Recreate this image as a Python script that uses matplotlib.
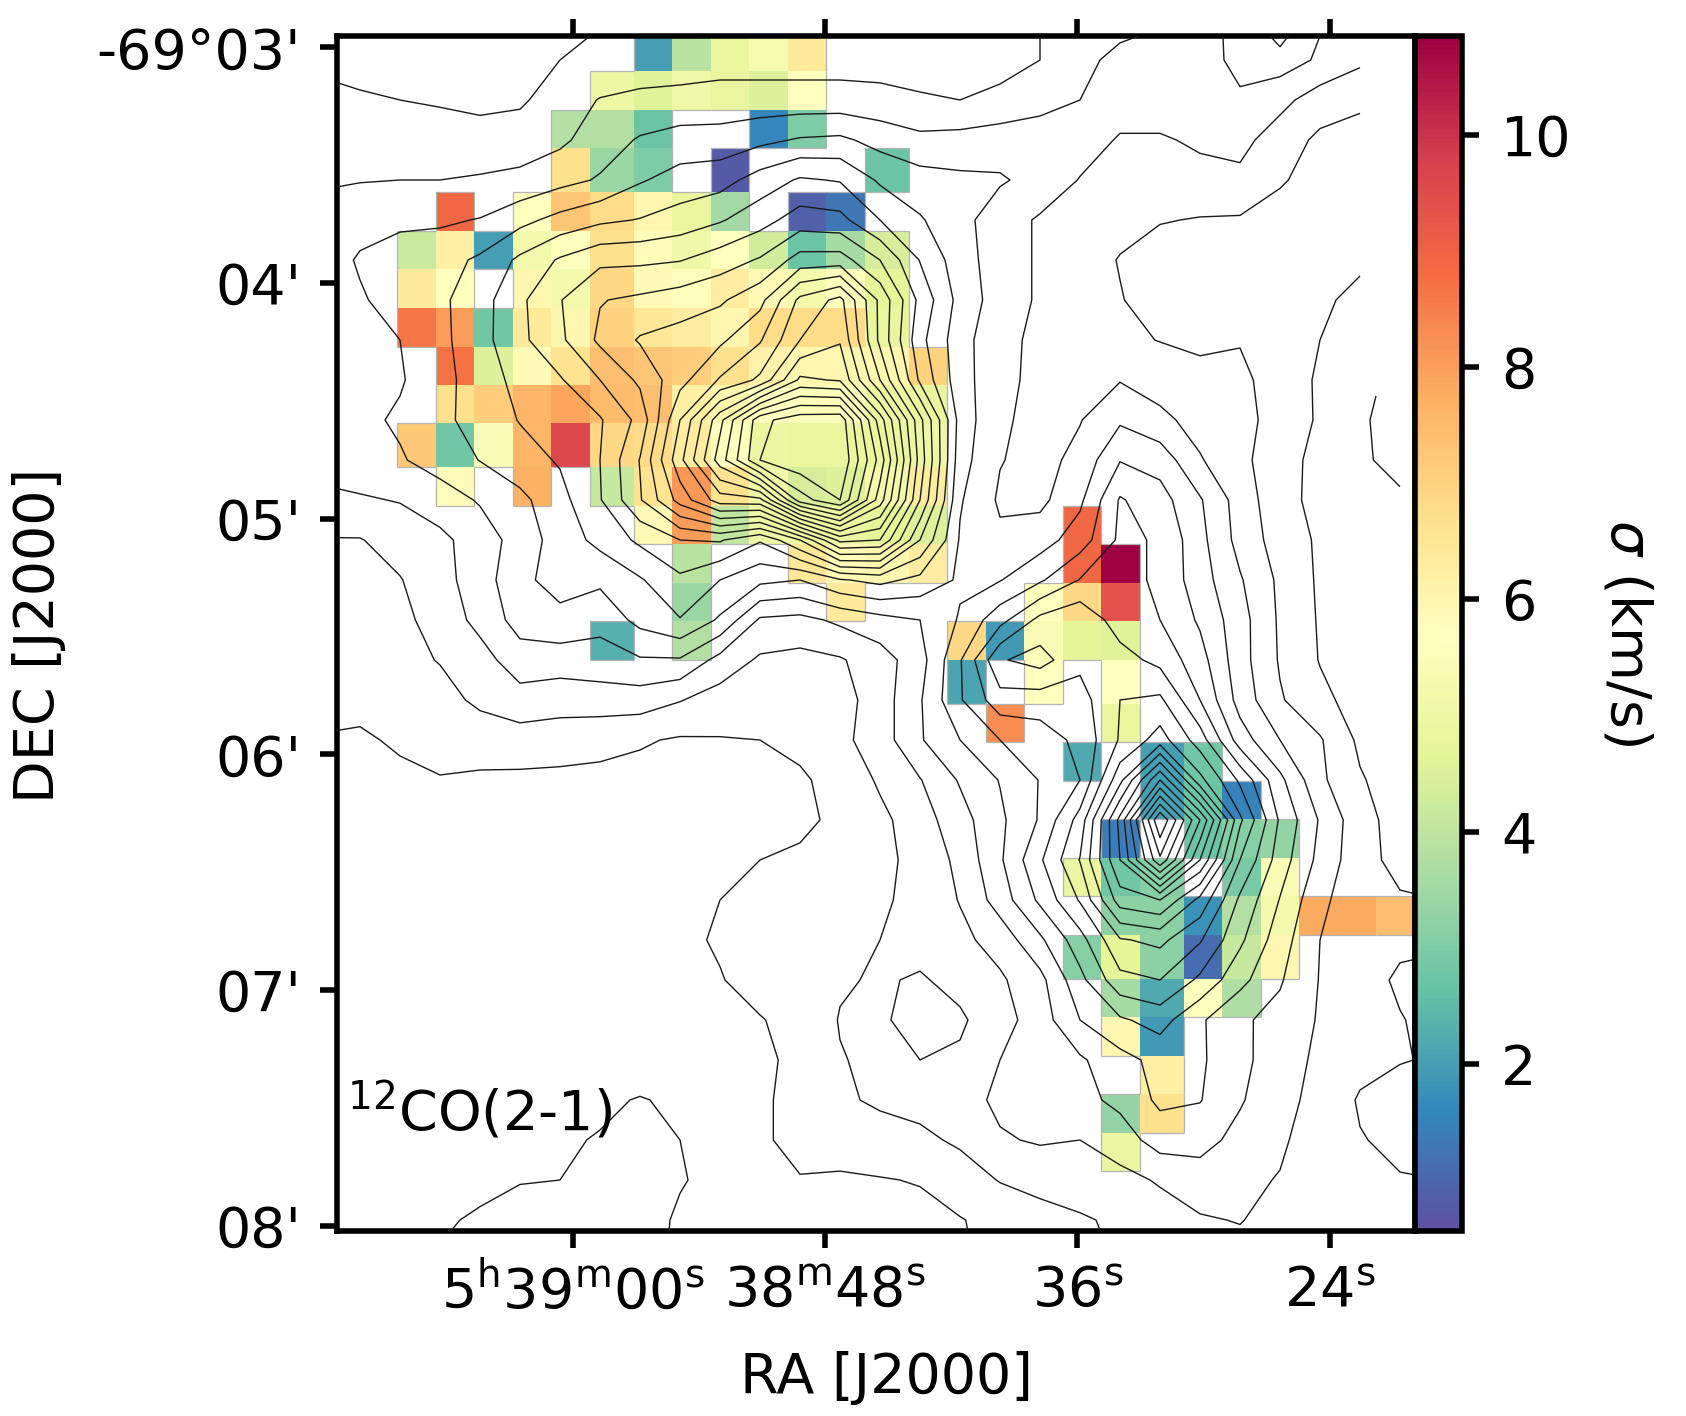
import numpy as np
import matplotlib
matplotlib.use("Agg")
import matplotlib.pyplot as plt
from matplotlib.collections import LineCollection

_ = np.nan
# ---------------- velocity dispersion map (km/s): rows north to south, columns east to west
sigma_rows = [
 [_,_,_,_,_,_,2.0,3.9,4.8,5.3,6.4,_,_,_,_,_,_,_,_,_,_,_,_,_,_,_],
 [_,_,_,_,_,5.0,4.6,5.1,4.8,4.5,5.7,_,_,_,_,_,_,_,_,_,_,_,_,_,_,_],
 [_,_,_,_,3.8,3.8,2.7,_,_,1.6,3.0,_,_,_,_,_,_,_,_,_,_,_,_,_,_,_],
 [_,_,_,_,6.7,3.4,3.0,_,0.8,_,_,_,2.7,_,_,_,_,_,_,_,_,_,_,_,_,_],
 [_,8.9,_,5.7,7.3,6.8,6.0,4.8,3.5,_,0.9,1.3,_,_,_,_,_,_,_,_,_,_,_,_,_,_],
 [4.2,6.2,2.0,5.2,5.6,6.7,5.8,5.1,5.7,4.3,2.7,3.6,4.4,_,_,_,_,_,_,_,_,_,_,_,_,_],
 [6.4,5.7,_,6.0,5.2,6.9,5.9,5.6,6.3,5.9,5.2,5.6,4.7,_,_,_,_,_,_,_,_,_,_,_,_,_],
 [8.6,8.0,2.8,6.4,6.0,7.0,6.5,6.3,6.0,6.8,6.8,6.8,4.8,_,_,_,_,_,_,_,_,_,_,_,_,_],
 [_,8.7,4.5,5.9,6.6,7.4,7.3,7.1,6.7,6.1,6.0,6.0,6.0,7.0,_,_,_,_,_,_,_,_,_,_,_,_],
 [_,6.7,7.1,7.6,7.9,7.5,7.4,6.2,6.0,5.7,5.6,5.6,5.0,4.8,_,_,_,_,_,_,_,_,_,_,_,_],
 [7.2,2.8,5.4,7.6,9.6,6.9,6.8,6.3,5.7,4.9,4.8,4.8,4.8,5.0,_,_,_,_,_,_,_,_,_,_,_,_],
 [_,5.8,_,7.7,_,4.1,6.6,8.1,6.6,5.1,4.4,4.5,5.2,6.3,_,_,_,_,_,_,_,_,_,_,_,_],
 [_,_,_,_,_,_,5.9,8.0,4.0,5.0,5.0,4.9,4.7,4.5,_,_,_,8.9,_,_,_,_,_,_,_,_],
 [_,_,_,_,_,_,_,3.9,_,_,6.5,5.9,6.0,6.3,_,_,_,8.9,10.85,_,_,_,_,_,_,_],
 [_,_,_,_,_,_,_,3.4,_,_,_,6.4,_,_,_,_,5.7,6.9,9.4,_,_,_,_,_,_,_],
 [_,_,_,_,_,2.3,_,3.8,_,_,_,_,_,_,6.9,1.9,5.4,4.7,4.6,_,_,_,_,_,_,_],
 [_,_,_,_,_,_,_,_,_,_,_,_,_,_,2.1,_,5.7,_,5.7,_,_,_,_,_,_,_],
 [_,_,_,_,_,_,_,_,_,_,_,_,_,_,_,8.3,_,_,4.8,_,_,_,_,_,_,_],
 [_,_,_,_,_,_,_,_,_,_,_,_,_,_,_,_,_,2.2,_,2.0,2.8,_,_,_,_,_],
 [_,_,_,_,_,_,_,_,_,_,_,_,_,_,_,_,_,_,_,2.0,2.7,1.5,_,_,_,_],
 [_,_,_,_,_,_,_,_,_,_,_,_,_,_,_,_,_,_,1.4,_,2.7,3.1,3.3,_,_,_],
 [_,_,_,_,_,_,_,_,_,_,_,_,_,_,_,_,_,4.9,2.8,3.1,_,2.9,5.4,_,_,_],
 [_,_,_,_,_,_,_,_,_,_,_,_,_,_,_,_,_,_,3.2,3.2,1.8,3.8,5.2,7.8,7.8,7.4],
 [_,_,_,_,_,_,_,_,_,_,_,_,_,_,_,_,_,3.1,4.7,3.2,1.1,4.1,6.0,_,_,_],
 [_,_,_,_,_,_,_,_,_,_,_,_,_,_,_,_,_,_,3.6,2.2,5.6,3.7,_,_,_,_],
 [_,_,_,_,_,_,_,_,_,_,_,_,_,_,_,_,_,_,6.0,1.9,_,_,_,_,_,_],
 [_,_,_,_,_,_,_,_,_,_,_,_,_,_,_,_,_,_,_,6.2,_,_,_,_,_,_],
 [_,_,_,_,_,_,_,_,_,_,_,_,_,_,_,_,_,_,3.3,6.7,_,_,_,_,_,_],
 [_,_,_,_,_,_,_,_,_,_,_,_,_,_,_,_,_,_,4.9,_,_,_,_,_,_,_],
]
# cell edges as they fall on the image
cell_x_px = [397.3,435.7,474.3,512.7,551.3,589.7,633.7,672.3,710.7,749.3,788,826.3,865,909,
             947.3,986,1024.3,1062.7,1101.3,1139.7,1183.7,1222.3,1260.7,1299.3,1337.7,1376,1414]
cell_y_px = [33,71.3,110,148.3,192.3,231,269.3,308,346.7,385,423.3,467.3,505.7,544.3,583,621.3,
             660,703.7,742.3,781,819.3,858,896.3,935,979,1017.3,1056,1094.3,1133,1171.3]

# ---------------- CO integrated intensity, in units of the contour step
n = np.nan
co_rows = [
 [1.3,1.3,1.4,1.4,1.5,1.6,1.75,1.95,2.2,2.4,2.5,2.5,2.6,2.6,2.6,2.7,2.7,2.8,3.0,3.4,3.6,3.9,4.5,5.4,7.0,5.1,4.3,n,n],
 [1.85,1.7,1.6,1.5,1.5,1.6,2.0,2.2,2.5,2.5,2.6,2.6,2.6,2.6,2.6,2.6,2.6,2.7,3.0,3.7,4.3,4.4,4.7,5.2,5.5,4.85,4.2,n,n],
 [2.2,2.1,2.0,1.9,1.75,1.85,2.5,3.05,3.2,3.3,3.4,3.4,3.4,3.4,3.3,3.1,3.0,3.2,3.6,4.0,4.5,4.7,4.8,4.9,4.3,3.5,3.15,n,n],
 [2.6,2.5,2.5,2.45,2.4,2.5,2.8,3.5,4.1,4.4,4.4,4.75,5.1,5.2,4.65,4.25,4.35,4.55,4.6,4.5,3.9,3.86,4.2,4.3,3.5,2.8,2.7,n,n],
 [2.9,2.95,3.0,3.0,3.1,3.24,3.67,4.1,4.9,5.4,5.6,6.43,7.12,6.93,5.85,5.4,5.2,5.1,4.7,3.95,3.7,3.5,3.6,3.77,3.08,2.7,2.5,n,n],
 [3.3,3.67,3.87,3.85,4.05,4.7,5.33,5.8,6.05,6.42,6.9,7.6,8.47,8.3,7.0,6.1,5.3,4.5,3.87,3.5,3.3,3.05,2.95,2.9,2.7,2.5,2.3,n,n],
 [3.5,4.1,4.3,4.6,5.17,6.2,7.12,7.77,7.8,7.95,8.5,9.1,10.4,10.45,9.0,6.95,5.43,4.5,3.87,3.45,2.95,2.6,2.4,2.4,2.4,2.2,2.1,n,n],
 [3.6,3.9,4.37,4.8,5.58,6.8,7.95,8.95,9.2,9.5,9.85,10.68,13.25,14.3,10.75,7.7,5.65,4.5,3.87,3.45,3.05,2.6,2.4,2.3,2.3,2.1,1.85,n,n],
 [3.6,3.75,4.0,4.74,5.63,6.76,7.8,9.2,10.1,10.4,10.8,11.9,14.0,14.9,10.75,7.3,5.4,4.25,3.8,3.5,3.2,2.97,2.85,2.95,2.4,2.0,1.7,n,n],
 [3.5,3.75,3.9,4.65,5.5,6.3,6.9,8.0,9.2,10.65,12.1,13.2,16.2,15.9,12.0,7.8,5.4,4.3,3.7,3.75,3.95,3.57,3.23,3.2,2.6,1.85,1.2,n,n],
 [3.55,3.75,4.15,4.75,5.4,6.05,6.5,6.9,8.3,12.0,15.7,19.7,20.6,20.7,15.5,10.3,5.6,4.1,3.8,3.95,4.85,4.24,3.64,3.25,2.7,1.85,1.1,0.7,n],
 [3.4,3.55,3.9,4.45,5.03,5.6,6.1,7.0,9.05,12.7,16.5,20.0,20.8,21.0,16.6,10.6,5.4,4.05,3.65,4.3,5.95,5.6,4.08,3.26,2.4,1.7,1.1,0.8,n],
 [2.75,2.9,3.05,3.5,4.1,4.74,5.67,6.93,8.9,11.4,13.5,13.7,18.5,20.0,15.5,10.0,5.1,3.85,3.75,4.8,7.1,6.4,5.1,3.55,2.35,1.7,1.25,1.1,n],
 [1.95,1.95,2.42,2.77,3.46,4.44,5.44,6.3,7.2,8.0,8.1,7.1,9.0,12.3,12.0,8.0,4.9,4.2,4.55,5.5,7.2,6.9,5.3,3.65,2.55,1.85,1.5,1.3,1.2],
 [1.8,1.9,1.95,2.65,3.5,4.75,5.4,5.2,5.9,6.8,6.0,5.25,5.0,5.9,6.3,5.7,4.85,4.95,5.85,7.05,7.4,6.8,5.45,4.1,2.8,1.85,1.6,1.4,1.3],
 [1.6,1.7,1.75,2.4,3.3,4.4,4.7,4.3,5.3,5.95,4.85,2.85,2.7,3.2,3.65,4.0,5.1,6.65,8.3,8.8,7.5,7.0,5.85,4.4,2.85,1.9,1.6,1.4,1.3],
 [1.45,1.5,1.7,2.05,2.6,3.55,3.5,3.6,3.9,3.9,2.65,1.85,1.7,1.9,2.54,3.6,5.9,8.9,9.4,8.25,8.4,7.7,6.4,4.4,2.9,1.95,1.55,1.35,1.3],
 [1.25,1.2,1.4,1.65,2.2,2.6,2.4,2.5,2.5,2.05,1.55,1.5,1.5,1.6,2.5,3.9,5.9,7.6,7.5,7.6,9.0,9.2,7.0,4.6,3.1,2.25,1.6,1.3,1.25],
 [0.95,0.9,1.1,1.35,1.45,1.55,1.5,1.3,1.1,0.9,0.95,1.0,1.18,1.75,2.5,3.9,5.0,6.0,6.5,7.25,9.1,10.45,8.5,5.5,4.0,3.1,1.8,1.3,1.2],
 [0.8,0.8,0.85,0.95,0.85,0.8,0.75,0.75,0.7,0.7,0.75,0.7,0.9,1.25,2.15,2.95,4.1,5.05,6.05,7.0,10.7,15.0,10.3,7.8,5.25,3.2,2.1,1.45,1.3],
 [0.7,0.65,0.65,0.65,0.65,0.65,0.65,0.65,0.65,0.65,0.65,0.65,0.8,1.2,1.75,2.55,3.6,4.8,6.1,8.4,13.3,19.95,15.0,9.2,5.85,3.9,2.35,1.6,1.4],
 [0.6,0.6,0.6,0.6,0.6,0.6,0.6,0.6,0.6,0.6,0.6,1.0,1.15,1.45,1.75,2.3,3.25,4.85,6.85,9.05,13.0,17.8,13.0,8.0,5.5,3.7,2.35,1.7,1.6],
 [0.55,0.55,0.55,0.55,0.55,0.55,0.55,0.55,0.55,0.7,1.0,1.25,1.45,1.65,1.85,2.3,3.05,4.45,6.2,8.1,11.5,12.0,9.7,6.8,4.95,3.2,2.45,2.1,2.0],
 [0.5,0.5,0.5,0.5,0.5,0.5,0.5,0.5,0.5,0.8,1.1,1.4,1.65,1.9,2.0,2.35,2.75,3.4,4.8,6.6,8.9,9.25,8.1,6.2,4.45,3.0,2.4,2.2,2.1],
 [0.5,0.5,0.5,0.5,0.5,0.5,0.5,0.5,0.5,0.75,0.95,1.35,1.6,1.9,2.1,1.9,2.3,2.85,3.7,5.7,7.7,8.0,6.8,5.3,4.1,2.95,2.4,1.85,1.8],
 [0.5,0.5,0.5,0.5,0.5,0.5,0.5,0.5,0.5,0.55,0.65,0.95,1.3,2.05,2.15,1.6,1.85,2.6,3.5,5.0,5.85,6.4,5.15,4.15,3.7,2.9,2.3,2.05,1.7],
 [0.5,0.5,0.5,0.5,0.5,0.5,0.5,0.5,0.5,0.5,0.55,0.75,1.3,1.95,2.2,2.0,2.15,3.0,3.4,3.85,4.67,5.3,5.15,4.27,3.45,2.8,2.3,2.05,1.9],
 [0.5,0.5,0.5,0.5,0.55,0.6,0.7,0.85,1.05,0.85,0.6,0.85,1.3,1.85,2.15,2.3,2.6,3.2,3.5,3.7,4.25,5.2,5.05,4.1,3.3,2.7,1.9,1.6,1.6],
 [0.5,0.5,0.55,0.6,0.65,0.75,0.9,1.05,1.5,1.0,0.75,0.85,1.3,1.35,1.6,1.8,2.15,2.9,3.1,3.0,3.5,4.45,4.35,3.7,3.15,2.5,2.05,1.8,1.7],
 [0.5,0.5,0.55,0.6,0.7,0.95,1.0,1.4,1.6,1.05,0.8,0.95,0.95,0.9,0.95,1.05,1.53,2.05,2.35,2.45,2.7,3.1,3.55,3.2,2.95,2.4,2.2,2.05,2.0],
 [0.5,0.5,0.6,0.85,1.15,1.4,1.6,1.7,1.3,0.9,0.8,0.75,0.7,0.7,0.7,0.75,0.95,1.3,1.6,1.9,2.15,2.55,2.9,3.05,2.6,2.3,2.2,2.1,2.1],
 [0.5,0.5,0.8,1.1,1.4,1.6,1.7,1.8,1.4,0.8,0.7,0.6,0.6,0.6,0.6,0.6,0.9,1.2,1.5,1.8,2.05,2.3,2.5,2.6,2.3,2.2,2.1,2.05,2.0],
]
co_x_px = np.arange(320, 1441, 40)
co_y_px = np.arange(20, 1261, 40)
co_levels = list(range(1, 21))

ra_ticks = [60, 48, 36, 24]
ra_labels = [r"5$^{\mathrm{h}}$39$^{\mathrm{m}}$00$^{\mathrm{s}}$",
             r"38$^{\mathrm{m}}$48$^{\mathrm{s}}$", r"36$^{\mathrm{s}}$", r"24$^{\mathrm{s}}$"]
dec_ticks = [3, 4, 5, 6, 7, 8]
dec_labels = ["-69°03'", "04'", "05'", "06'", "07'", "08'"]
cbar_ticks = [2, 4, 6, 8, 10]
VMIN, VMAX = 0.56, 10.85

W, H = 1686, 1416
DPI = 200
FS = 20
plt.rcParams["font.family"] = "DejaVu Sans"
plt.rcParams["font.size"] = FS

fig = plt.figure(figsize=(W / DPI, H / DPI), dpi=DPI)
L, R, T, B = 337.0, 1414.5, 36.0, 1231.3
ax = fig.add_axes([L / W, 1 - B / H, (R - L) / W, (B - T) / H])


def ra_of(px):
    return 60 - (np.asarray(px, float) - 573.0) / 21.02


def dec_of(py):
    return 3 + (np.asarray(py, float) - 47.3) / 235.7


xe, ye = ra_of(cell_x_px), dec_of(cell_y_px)
sigma = np.ma.masked_invalid(np.array(sigma_rows, float))
mesh = ax.pcolormesh(xe, ye, sigma, cmap="Spectral_r", vmin=VMIN, vmax=VMAX,
                     shading="flat", linewidth=0, antialiased=False, zorder=1)

# faint rim where the map meets empty sky
mask = ~np.ma.getmaskarray(sigma)
segs = []
nr, nc = mask.shape
for i in range(nr):
    for j in range(nc):
        if not mask[i, j]:
            continue
        if i == 0 or not mask[i - 1, j]:
            segs.append([(xe[j], ye[i]), (xe[j + 1], ye[i])])
        if i == nr - 1 or not mask[i + 1, j]:
            segs.append([(xe[j], ye[i + 1]), (xe[j + 1], ye[i + 1])])
        if j == 0 or not mask[i, j - 1]:
            segs.append([(xe[j], ye[i]), (xe[j], ye[i + 1])])
        if j == nc - 1 or not mask[i, j + 1]:
            segs.append([(xe[j + 1], ye[i]), (xe[j + 1], ye[i + 1])])
ax.add_collection(LineCollection(segs, colors="#b4b4b4", linewidths=0.45, zorder=2))

co = np.array(co_rows, float)
ax.contour(ra_of(co_x_px), dec_of(co_y_px), co, levels=co_levels,
           colors="#1a1a1a", linewidths=0.5, linestyles="solid", zorder=3)

ax.set_xlim(ra_of(L), ra_of(R))
ax.set_ylim(dec_of(B), dec_of(T))
ax.set_xticks(ra_ticks)
ax.set_xticklabels(ra_labels)
ax.set_yticks(dec_ticks)
ax.set_yticklabels(dec_labels)
ax.tick_params(axis="both", which="major", length=6, width=2, labelsize=FS)
ax.tick_params(axis="x", top=True, bottom=True, pad=6)
ax.tick_params(axis="y", left=True, right=False, pad=7)
for s in ax.spines.values():
    s.set_linewidth(2)

cax = fig.add_axes([R / W, 1 - B / H, (1462 - R) / W, (B - T) / H])
cb = fig.colorbar(mesh, cax=cax, ticks=cbar_ticks)
cb.ax.tick_params(length=6, width=2, labelsize=FS, pad=8)
cb.outline.set_linewidth(2)

fig.text(886 / W, 1 - 1378 / H, "RA [J2000]", ha="center", va="center", fontsize=FS)
fig.text(39 / W, 1 - 635 / H, "DEC [J2000]", ha="center", va="center", rotation=90, fontsize=FS)
fig.text(1627 / W, 1 - 633 / H, r"$\sigma$ (km/s)", ha="center", va="center", rotation=270, fontsize=FS)
fig.text(347 / W, 1 - 1131 / H, r"$^{12}$CO(2-1)", ha="left", va="baseline", fontsize=FS)

fig.savefig("out.png", dpi=DPI)
